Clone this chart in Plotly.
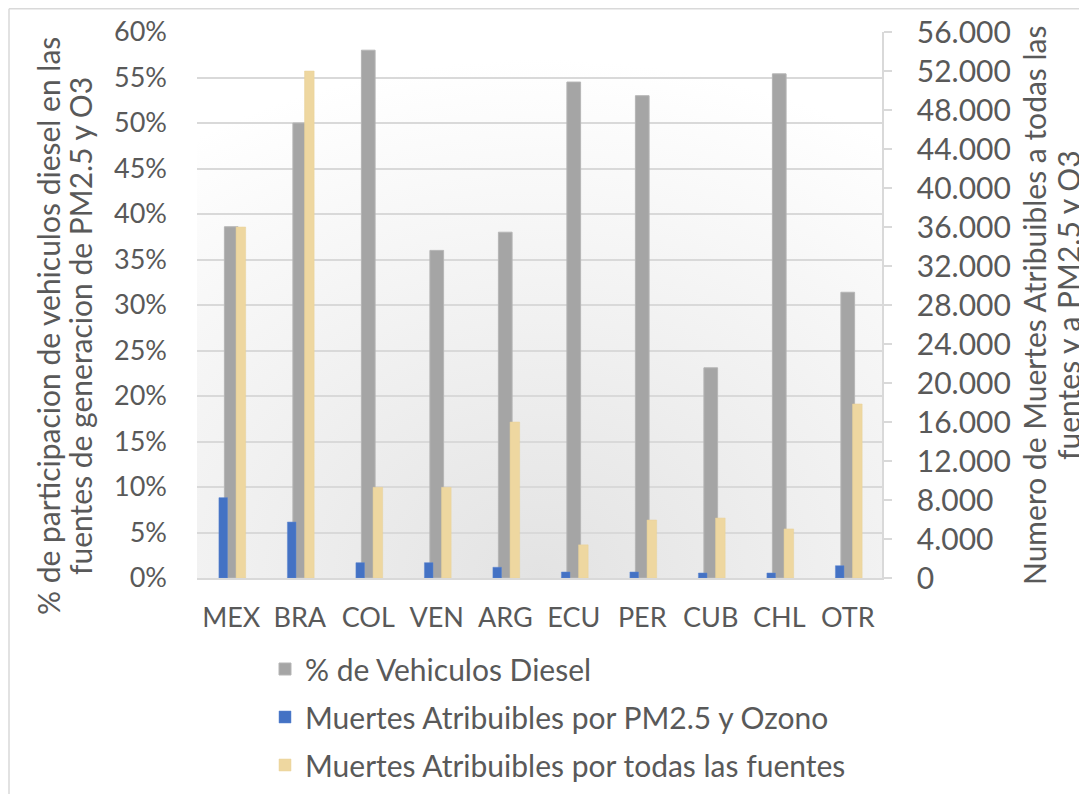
import base64
import plotly.graph_objects as go

categories = ["MEX", "BRA", "COL", "VEN", "ARG", "ECU", "PER", "CUB", "CHL", "OTR"]
pct_diesel = [0.386, 0.500, 0.580, 0.360, 0.380, 0.545, 0.530, 0.231, 0.554, 0.314]
muertes_pm_ozono = [8240, 5740, 1570, 1570, 1100, 615, 615, 513, 513, 1260]
muertes_todas = [36000, 52000, 9300, 9300, 16000, 3400, 5950, 6150, 5030, 17850]

names = ["% de Vehiculos Diesel",
         "Muertes Atribuibles por PM2.5 y Ozono",
         "Muertes Atribuibles por todas las fuentes"]
left_title = ["% de participacion de vehiculos diesel en las",
              "fuentes de generacion de PM2.5 y O3"]
right_title = ["Numero de Muertes Atribuibles a todas las",
               "fuentes y a PM2.5 y O3"]

FONT = "Lato"
TXT = "#595959"
GRID = "#d9d9d9"
xs = list(range(len(categories)))

# the page body has an 8px margin: work in screen pixels and convert
OFF = 8
W, H = 1087 - OFF, 794 - OFF
L, T = 197 - OFF, 32 - OFF
R = W - (882 - OFF)
B = H - (578 - OFF)
PW, PH = W - L - R, H - T - B


def px(xs_):
    return (xs_ - OFF - L) / PW


def py(ys_):
    return 1 - (ys_ - OFF - T) / PH


fig = go.Figure()
fig.add_trace(go.Bar(x=xs, y=pct_diesel, name=names[0], yaxis="y",
                     marker=dict(color="#a5a5a5", line=dict(color="#b5b5b5", width=1)),
                     width=0.2, offset=-0.1, legendgroup="a"))
fig.add_trace(go.Bar(x=xs, y=muertes_pm_ozono, name=names[1], yaxis="y2",
                     marker=dict(color="#4472c4", line=dict(color="#5b85d0", width=0.5)),
                     width=0.125, offset=-0.18, legendgroup="b"))
fig.add_trace(go.Bar(x=xs, y=muertes_todas, name=names[2], yaxis="y2",
                     marker=dict(color="#eed7a0", line=dict(color="#e9d199", width=0.5)),
                     width=0.14, offset=0.07, legendgroup="c"))

svg = ('<svg xmlns="http://www.w3.org/2000/svg" width="685" height="546">'
       '<defs><radialGradient id="g" cx="50%" cy="100%" r="95%" fx="50%" fy="100%">'
       '<stop offset="0" stop-color="#e3e3e3"/><stop offset="1" stop-color="#ffffff"/>'
       '</radialGradient></defs><rect width="685" height="546" fill="url(#g)"/></svg>')
src = "data:image/svg+xml;base64," + base64.b64encode(svg.encode()).decode()

title_font = dict(size=30, color=TXT, family=FONT)
annotations = []
for txt, xc in zip(left_title, [48, 80]):
    annotations.append(dict(text=txt, textangle=-90, xref="paper", yref="paper",
                            x=px(xc), y=py(326), xanchor="center", yanchor="middle",
                            showarrow=False, font=title_font))
for txt, xc in zip(right_title, [1034, 1068]):
    annotations.append(dict(text=txt, textangle=-90, xref="paper", yref="paper",
                            x=px(xc), y=py(305), xanchor="center", yanchor="middle",
                            showarrow=False, font=title_font))

fig.update_layout(
    width=W, height=H,
    margin=dict(l=L, r=R, t=T, b=B, autoexpand=False),
    paper_bgcolor="white", plot_bgcolor="rgba(0,0,0,0)",
    separators=",.",
    barmode="overlay",
    font=dict(family=FONT, size=27, color=TXT),
    images=[dict(source=src, xref="paper", yref="paper", x=0, y=1, sizex=1, sizey=1,
                 xanchor="left", yanchor="top", sizing="stretch", layer="below")],
    xaxis=dict(range=[-0.5, 9.5], tickvals=xs, ticktext=categories, showgrid=False,
               zeroline=False, showline=True, linecolor=GRID, linewidth=1.5,
               ticks="", ticklabelstandoff=15, tickfont=dict(size=27, color=TXT)),
    yaxis=dict(range=[0, 0.6], dtick=0.05, tickformat=".0%", showgrid=True,
               gridcolor=GRID, gridwidth=1.5, zeroline=False, showline=False,
               ticks="", ticklabelstandoff=29, tickfont=dict(size=27, color=TXT)),
    yaxis2=dict(range=[0, 56000], dtick=4000, tickformat=",d", overlaying="y",
                side="right", showgrid=False, zeroline=False, showline=True,
                linecolor=GRID, linewidth=1.5, ticks="outside", ticklen=8,
                tickcolor=GRID, tickwidth=1.5, ticklabelstandoff=19,
                tickfont=dict(size=30, color=TXT)),
    showlegend=True,
    legend=dict(orientation="v", x=px(265), y=py(643), xanchor="left", yanchor="top",
                tracegroupgap=6, font=dict(size=30, color=TXT),
                bgcolor="rgba(0,0,0,0)", traceorder="grouped"),
    annotations=annotations,
    shapes=[
        dict(type="line", xref="paper", yref="paper", x0=px(9), x1=px(1100),
             y0=py(8.8), y1=py(8.8), line=dict(color=GRID, width=1.5)),
        dict(type="line", xref="paper", yref="paper", x0=px(9), x1=px(9),
             y0=py(8.8), y1=py(810), line=dict(color=GRID, width=1.5)),
    ],
)

fig.write_html("out.html")
